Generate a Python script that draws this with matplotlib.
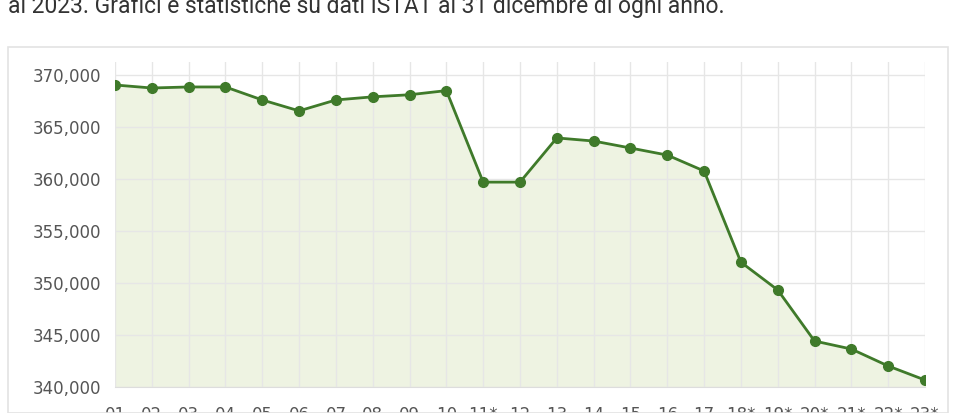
import matplotlib
matplotlib.use("Agg")
import matplotlib.pyplot as plt
from matplotlib.patches import Rectangle

years = ["01","02","03","04","05","06","07","08","09","10","11*","12","13","14","15","16","17","18*","19*","20*","21*","22*","23*"]
population = [369040,368750,368850,368850,367600,366550,367600,367900,368100,368500,
              359700,359700,363950,363650,362980,362300,360770,352000,349330,344420,343650,342020,340670]
yticks = [340000,345000,350000,355000,360000,365000,370000]

W, H = 964, 413
fig = plt.figure(figsize=(W/100, H/100), dpi=100)
fig.patches.append(Rectangle((8/W, 0), 940/W, 1-47/H, transform=fig.transFigure,
                             fill=False, edgecolor="#e3e3e3", lw=1.2))
fig.text(8/W, 1-6/H, "al 2023. Grafici e statistiche su dati ISTAT al 31 dicembre di ogni anno.",
         fontsize=16.5, color="#333333", va="center", ha="left", family="Roboto")

ax = fig.add_axes([115/W, 1-387/H, 810/W, 325/H])
x = list(range(len(years)))
ax.fill_between(x, population, 340000, color="#eef3e2", zorder=1)
ax.plot(x, population, color="#3f7a2a", lw=2, marker="o", ms=7, zorder=3)
ax.set_xlim(0, len(years)-1)
ax.set_ylim(340000, 371250)
ax.set_yticks(yticks)
ax.set_yticklabels([f"{v:,}" for v in yticks])
ax.set_xticks(x)
ax.set_xticklabels(years)
ax.grid(True, color="#e6e6e6", lw=1, zorder=0)
for s in ax.spines.values():
    s.set_visible(False)
ax.spines["bottom"].set_visible(True)
ax.spines["bottom"].set_color("#dddddd")
ax.tick_params(length=0, labelsize=12, colors="#555555", pad=14)
ax.tick_params(axis="y", pad=10)
fig.savefig("out.png", dpi=100)
